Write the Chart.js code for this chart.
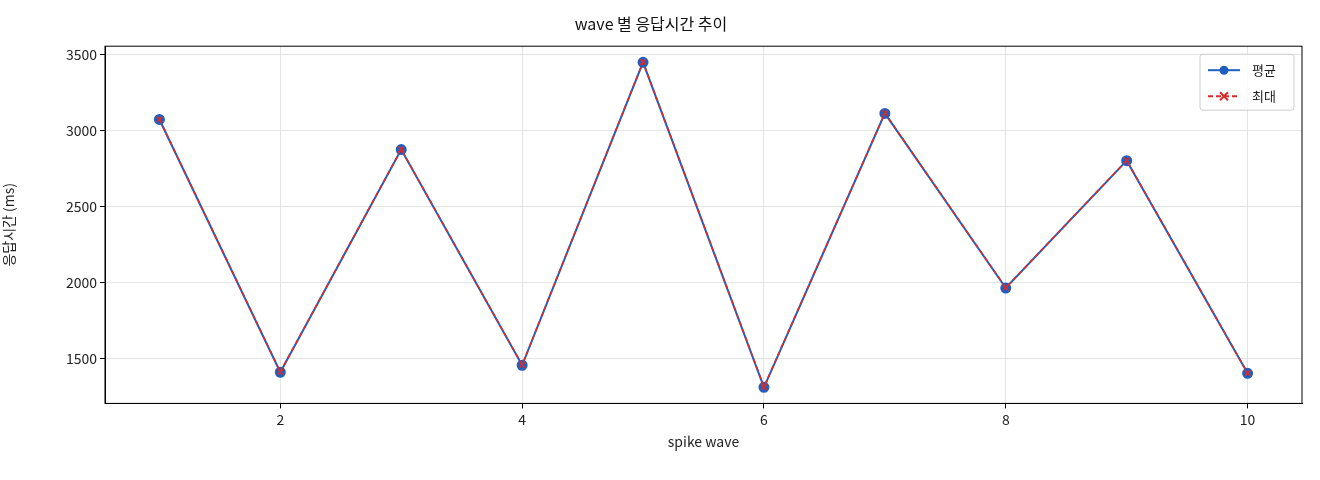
<!DOCTYPE html>
<html><head><meta charset="utf-8">
<script src="https://cdn.jsdelivr.net/npm/chart.js@4"></script>
<style>body{margin:0;background:#fff}#w{width:1320px;height:480px}</style>
</head><body><div id="w"><canvas id="c"></canvas></div>
<script>
const waves=[1,2,3,4,5,6,7,8,9,10];
const avgMs=[3071,1408,2873,1454,3447,1309,3111,1962,2800,1401];
const maxMs=[3073,1410,2875,1456,3449,1311,3113,1964,2802,1403];
const yTicks=[1500,2000,2500,3000,3500];
const F='"Noto Sans CJK KR","DejaVu Sans",sans-serif';
Chart.defaults.font.family=F;Chart.defaults.color='#222';
const legendPlugin={id:'lg',afterDraw(ch){
 const c=ch.ctx,a=ch.chartArea;const w=94,h=56,x=a.right-w-8,y=a.top+8;
 c.save();c.fillStyle='rgba(255,255,255,0.8)';c.strokeStyle='#ccc';c.lineWidth=1;
 c.beginPath();c.roundRect(x,y,w,h,3);c.fill();c.stroke();
 ch.data.datasets.forEach((d,i)=>{const ly=y+16+i*26;
  c.strokeStyle=d.borderColor;c.lineWidth=2;c.setLineDash(d.borderDash||[]);
  c.beginPath();c.moveTo(x+8,ly);c.lineTo(x+40,ly);c.stroke();c.setLineDash([]);
  if(i==0){c.fillStyle=d.borderColor;c.beginPath();c.arc(x+24,ly,4.5,0,7);c.fill();}
  else{c.beginPath();c.moveTo(x+20,ly-4);c.lineTo(x+28,ly+4);c.moveTo(x+28,ly-4);c.lineTo(x+20,ly+4);c.stroke();}
  c.fillStyle='#222';c.font='13px '+F;c.textBaseline='middle';c.fillText(d.label,x+52,ly);});
 c.restore();}};
const frame={id:'fr',afterDraw(ch){const c=ch.ctx,a=ch.chartArea;c.save();c.strokeStyle='#000';c.lineWidth=1;c.strokeRect(a.left,a.top,a.right-a.left,a.bottom-a.top);c.restore();}};
new Chart(document.getElementById('c'),{type:'line',
data:{datasets:[
 {label:'평균',order:2,data:waves.map((x,i)=>({x,y:avgMs[i]})),borderColor:'#1f5fbf',backgroundColor:'#1f5fbf',borderWidth:2,pointRadius:4.5,pointStyle:'circle',tension:0},
 {label:'최대',order:1,data:waves.map((x,i)=>({x,y:maxMs[i]})),borderColor:'#d62d2d',backgroundColor:'#d62d2d',borderWidth:1.6,borderDash:[5,3],pointRadius:4,pointStyle:'crossRot',pointBorderWidth:1.6,tension:0}]},
options:{responsive:true,maintainAspectRatio:false,animation:false,
 layout:{padding:{left:0,right:18,top:0,bottom:26}},
 plugins:{legend:{display:false},tooltip:{enabled:false},
  title:{display:true,text:'wave 별 응답시간 추이',font:{size:16,weight:'normal'},color:'#111',padding:{top:14,bottom:13}}},
 scales:{
  x:{type:'linear',min:0.55,max:10.45,afterBuildTicks(s){s.ticks=[2,4,6,8,10].map(v=>({value:v}));},
   grid:{color:'#e4e4e4',drawTicks:true,tickColor:'#000',tickLength:5},border:{color:'#000'},
   ticks:{font:{size:14},color:'#222'},title:{display:true,text:'spike wave',font:{size:14},padding:{top:2}}},
  y:{min:1203,max:3553,afterBuildTicks(s){s.ticks=yTicks.map(v=>({value:v}));},
   afterFit(s){s.width=105;},
   grid:{color:'#e4e4e4',tickColor:'#000',tickLength:5},border:{color:'#000'},
   ticks:{font:{size:14},color:'#222',callback:v=>String(v)},
   title:{display:true,text:'응답시간 (ms)',font:{size:14},padding:{top:0,bottom:0}}}}},
plugins:[legendPlugin,frame,{id:'yt',beforeInit(ch){}}]});
</script></body></html>
